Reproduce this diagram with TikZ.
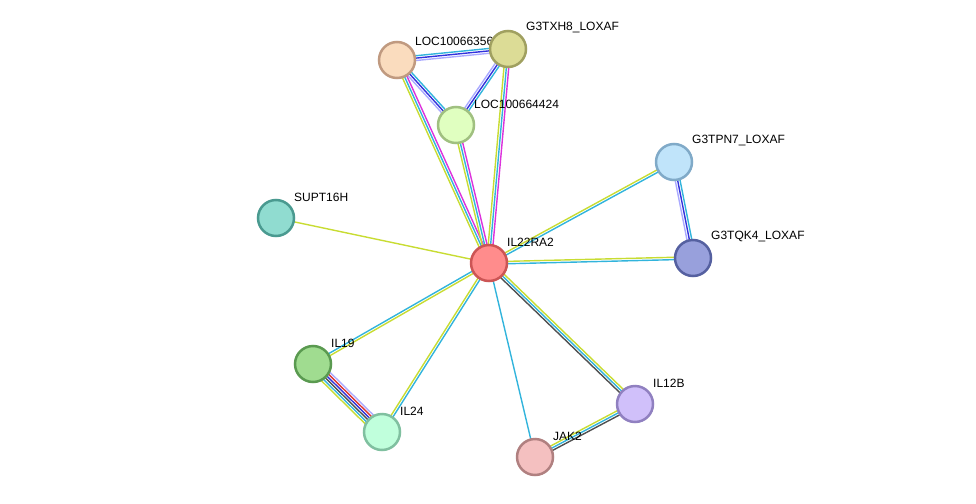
\documentclass[tikz,border=0pt]{standalone}
\usepackage{fontspec}
\setmainfont{Liberation Sans}
\usetikzlibrary{calc}
\definecolor{eL}{HTML}{C8DC32}
\definecolor{eC}{HTML}{32B4DC}
\definecolor{eM}{HTML}{DC32DC}
\definecolor{eB}{HTML}{3232DC}
\definecolor{eK}{HTML}{505050}
\definecolor{eR}{HTML}{DC3232}
\definecolor{eV}{HTML}{AAAAFF}
\newcommand{\edgeLines}[3]{%
  \foreach \c [count=\i] in {#3} {\xdef\nlin{\i}}%
  \foreach \c [count=\i] in {#3} {%
    \pgfmathsetmacro{\off}{(\i-(\nlin+1)/2)*2.4}%
    \draw[line width=1.4pt,draw=\c] ($(#1)!\off pt!90:(#2)$) -- ($(#2)!-\off pt!90:(#1)$);}%
}
\tikzset{prot/.style={circle,minimum size=36pt,inner sep=0pt,line width=2.5pt},
 lab/.style={font=\fontsize{12}{14}\selectfont,anchor=south west,inner sep=0pt}}
\begin{document}
\begin{tikzpicture}[x=1pt,y=-1pt]
\useasboundingbox (0,0) rectangle (976,503);
\coordinate (IL22RA2) at (489,263);
\coordinate (L566) at (397,60);
\coordinate (TXH8) at (508,49);
\coordinate (L424) at (456,125);
\coordinate (TPN7) at (674,162);
\coordinate (TQK4) at (693,258);
\coordinate (SUPT) at (276,218);
\coordinate (IL19) at (313,364);
\coordinate (IL24) at (382,432);
\coordinate (IL12B) at (635,404);
\coordinate (JAK2) at (535,457);
\edgeLines{IL22RA2}{L566}{eM,eC,eL}
\edgeLines{IL22RA2}{TXH8}{eM,eC,eL}
\edgeLines{IL22RA2}{L424}{eM,eC,eL}
\edgeLines{L566}{TXH8}{eV,eB,eC}
\edgeLines{L566}{L424}{eV,eB,eC}
\edgeLines{TXH8}{L424}{eV,eB,eC}
\edgeLines{IL22RA2}{TPN7}{eC,eL}
\edgeLines{IL22RA2}{TQK4}{eC,eL}
\edgeLines{TPN7}{TQK4}{eV,eB,eC}
\edgeLines{IL22RA2}{SUPT}{eL}
\edgeLines{IL22RA2}{IL19}{eC,eL}
\edgeLines{IL22RA2}{IL24}{eL,eC}
\edgeLines{IL22RA2}{JAK2}{eC}
\edgeLines{IL22RA2}{IL12B}{eK,eC,eL}
\edgeLines{IL12B}{JAK2}{eL,eC,eK}
\edgeLines{IL19}{IL24}{eL,eC,eK,eB,eR,eV}
\node[prot,fill={rgb,255:red,255;green,140;blue,140},draw={rgb,255:red,204;green,85;blue,85}] (n1) at (IL22RA2) {};
\node[prot,fill={rgb,255:red,250;green,220;blue,190},draw={rgb,255:red,192;green,154;blue,128}] (n2) at (L566) {};
\node[lab] at (415,46) {LOC10066356};
\node[prot,fill={rgb,255:red,220;green,220;blue,150},draw={rgb,255:red,160;green,160;blue,96}] (n3) at (TXH8) {};
\node[prot,fill={rgb,255:red,224;green,255;blue,192},draw={rgb,255:red,160;green,192;blue,128}] (n4) at (L424) {};
\node[prot,fill={rgb,255:red,192;green,228;blue,250},draw={rgb,255:red,128;green,170;blue,200}] (n5) at (TPN7) {};
\node[prot,fill={rgb,255:red,152;green,160;blue,220},draw={rgb,255:red,85;green,96;blue,160}] (n6) at (TQK4) {};
\node[prot,fill={rgb,255:red,144;green,220;blue,208},draw={rgb,255:red,74;green,154;blue,144}] (n7) at (SUPT) {};
\node[prot,fill={rgb,255:red,160;green,220;blue,144},draw={rgb,255:red,90;green,154;blue,80}] (n8) at (IL19) {};
\node[prot,fill={rgb,255:red,192;green,255;blue,220},draw={rgb,255:red,128;green,192;blue,160}] (n9) at (IL24) {};
\node[prot,fill={rgb,255:red,208;green,192;blue,250},draw={rgb,255:red,144;green,128;blue,192}] (n10) at (IL12B) {};
\node[prot,fill={rgb,255:red,244;green,192;blue,192},draw={rgb,255:red,176;green,128;blue,128}] (n11) at (JAK2) {};
\node[lab] at (507,247) {IL22RA2};
\node[lab] at (526,33) {G3TXH8\_LOXAF};
\node[lab] at (474,109) {LOC100664424};
\node[lab] at (692,146) {G3TPN7\_LOXAF};
\node[lab] at (711,242) {G3TQK4\_LOXAF};
\node[lab] at (294,202) {SUPT16H};
\node[lab] at (331,348) {IL19};
\node[lab] at (400,416) {IL24};
\node[lab] at (653,388) {IL12B};
\node[lab] at (553,441) {JAK2};
\end{tikzpicture}
\end{document}
